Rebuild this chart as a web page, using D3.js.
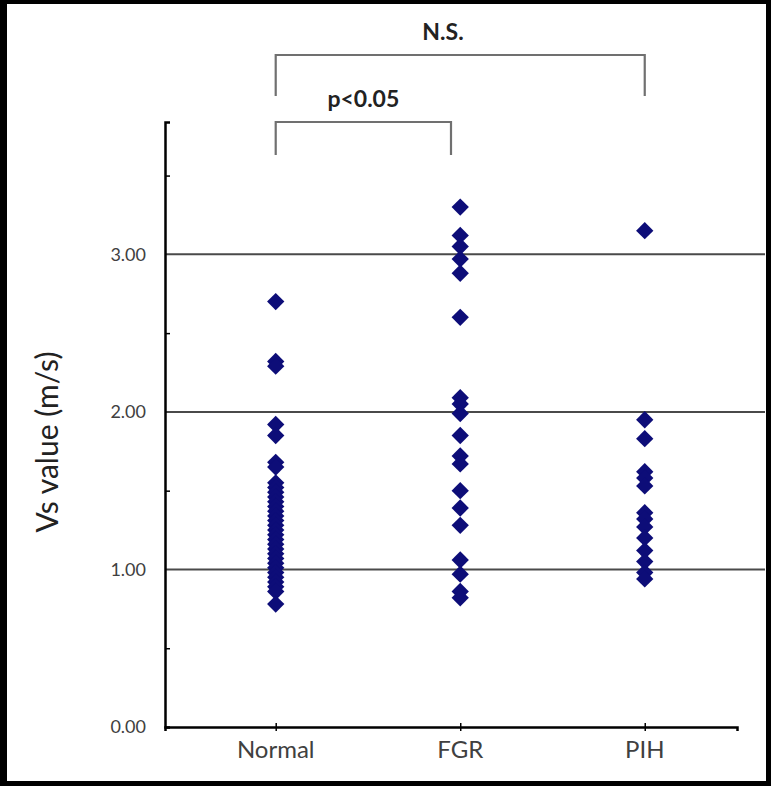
<!DOCTYPE html>
<html>
<head>
<meta charset="utf-8">
<script src="https://cdn.jsdelivr.net/npm/d3@7"></script>
<style>
  html, body { margin: 0; padding: 0; background: #000; }
  svg { display: block; }
</style>
</head>
<body>
<svg id="chart" width="771" height="786"></svg>
<script>
// ---- Data ----
const categories = ["Normal", "FGR", "PIH"];
const categoryX = [1, 2, 3];
const normalValues = [2.70, 2.32, 2.29, 1.92, 1.85, 1.68, 1.65, 1.55, 1.52, 1.49, 1.46, 1.43, 1.40,
  1.37, 1.34, 1.31, 1.28, 1.25, 1.22, 1.19, 1.16, 1.13, 1.10, 1.07, 1.04, 1.01, 0.98, 0.95,
  0.92, 0.89, 0.86, 0.78];
const fgrValues = [3.30, 3.12, 3.05, 2.97, 2.88, 2.60, 2.09, 2.05, 1.99, 1.85, 1.72, 1.67,
  1.50, 1.39, 1.28, 1.06, 0.97, 0.86, 0.82];
const pihValues = [3.15, 1.95, 1.83, 1.62, 1.58, 1.53, 1.36, 1.32, 1.27, 1.20, 1.12, 1.05, 0.98, 0.94];
const yTicks = [0, 1, 2, 3];
const yMinorTicks = [0.5, 1.5, 2.5, 3.5];
const yTickLabels = ["0.00", "1.00", "2.00", "3.00"];
const yTitle = "Vs value (m/s)";
const comparisons = [
  { from: 1, to: 3, label: "N.S.", level: 0 },
  { from: 1, to: 1.95, label: "p<0.05", level: 1 }
];

const series = [normalValues, fgrValues, pihValues];

// ---- Layout ----
const svg = d3.select("#chart");
svg.append("rect").attr("x", 7).attr("y", 4).attr("width", 759).attr("height", 777).attr("fill", "#fff");

const x = d3.scaleLinear().domain([0.4, 3.5]).range([165, 737]);
const y = d3.scaleLinear().domain([0, 3.84]).range([727, 122]);
const gridRight = 765;
const font = "Lato, 'Open Sans', sans-serif";

// gridlines (integers above 0)
svg.append("g").selectAll("line").data(yTicks.filter(d => d > 0)).join("line")
  .attr("x1", x(0.4)).attr("x2", gridRight)
  .attr("y1", d => y(d)).attr("y2", d => y(d))
  .attr("stroke", "#4a4a4a").attr("stroke-width", 2);

// y axis
const yAxis = d3.axisRight(y).tickValues(yMinorTicks).tickSize(5).tickFormat("");
const gy = svg.append("g").attr("transform", `translate(${x(0.4)},0)`).call(yAxis);
gy.select(".domain").attr("stroke", "#000").attr("stroke-width", 2.5);
gy.selectAll(".tick line").attr("stroke", "#000").attr("stroke-width", 1.5);

// y tick labels
svg.append("g").selectAll("text").data(yTicks).join("text")
  .attr("x", 146).attr("y", d => y(d)).attr("dy", "0.35em")
  .attr("text-anchor", "end").attr("font-family", font).attr("font-size", 18)
  .attr("fill", "#404040").text((d, i) => yTickLabels[i]);

// x axis
const xAxis = d3.axisBottom(x).tickValues(categoryX).tickSize(4).tickFormat("");
const gx = svg.append("g").attr("transform", `translate(0,${y(0)})`).call(xAxis);
gx.select(".domain").attr("stroke", "#000").attr("stroke-width", 2.5);
gx.selectAll(".tick line").attr("stroke", "#000").attr("stroke-width", 1.5).attr("y1", -4);

// category labels
svg.append("g").selectAll("text").data(categories).join("text")
  .attr("x", (d, i) => x(categoryX[i])).attr("y", 758)
  .attr("text-anchor", "middle").attr("font-family", font).attr("font-size", 24)
  .attr("fill", "#404040").text(d => d);

// y title
svg.append("text")
  .attr("transform", `translate(58,442) rotate(-90)`)
  .attr("text-anchor", "middle").attr("font-family", font).attr("font-size", 30)
  .attr("fill", "#222").text(yTitle);

// points
const diamond = d3.symbol().type(d3.symbolSquare).size(150);
series.forEach((vals, i) => {
  svg.append("g").selectAll("path").data(vals).join("path")
    .attr("d", diamond)
    .attr("transform", d => `translate(${x(categoryX[i])},${y(d)}) rotate(45)`)
    .attr("fill", "#0d0d78");
});

// comparison brackets
const levelY = [55, 122];
const levelDrop = [41, 33];
const g = svg.append("g");
comparisons.forEach(c => {
  const ly = levelY[c.level], drop = levelDrop[c.level];
  const x1 = x(c.from), x2 = x(c.to);
  g.append("path")
    .attr("d", `M${x1},${ly + drop}V${ly}H${x2}V${ly + drop}`)
    .attr("fill", "none").attr("stroke", "#707070").attr("stroke-width", 2.2);
  g.append("text")
    .attr("x", c.level === 0 ? 443 : (x1 + x2) / 2).attr("y", ly - 15)
    .attr("text-anchor", "middle").attr("font-family", font).attr("font-size", 23)
    .attr("font-weight", "bold").attr("fill", "#222").text(c.label);
});
</script>
</body>
</html>
